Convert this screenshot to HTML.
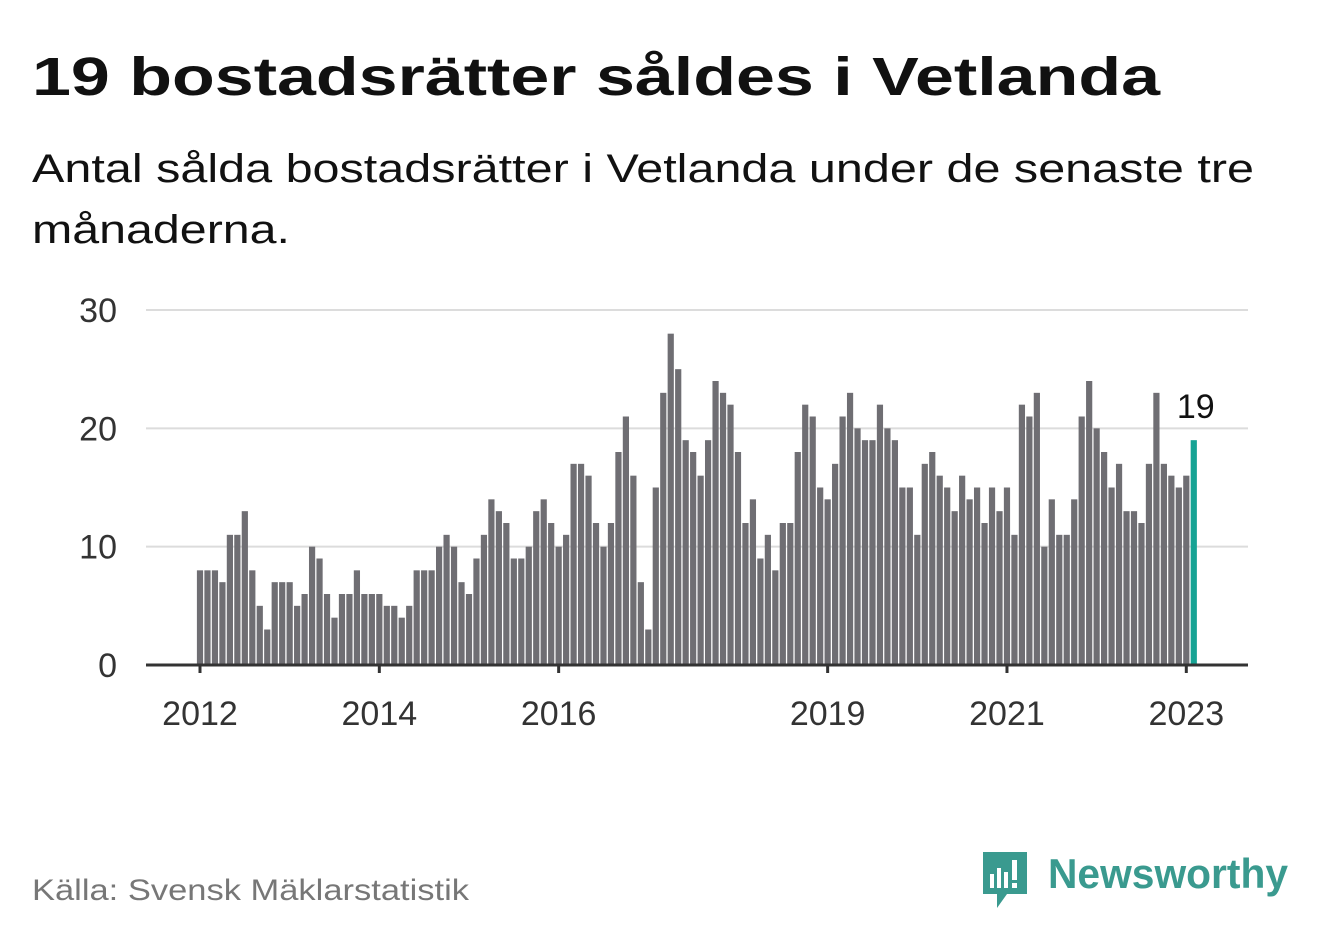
<!DOCTYPE html>
<html><head><meta charset="utf-8"><style>
html,body{margin:0;padding:0;background:#fff;}
svg{display:block;font-family:"Liberation Sans",sans-serif;}
</style></head><body>
<svg id="chart" width="1322" height="939" viewBox="0 0 1322 939">
<text x="32" y="95" font-size="54" font-weight="bold" fill="#111" textLength="1128" lengthAdjust="spacingAndGlyphs">19 bostadsrätter såldes i Vetlanda</text>
<text x="32" y="182" font-size="40" fill="#111" textLength="1222" lengthAdjust="spacingAndGlyphs">Antal sålda bostadsrätter i Vetlanda under de senaste tre</text>
<text x="32" y="243" font-size="40" fill="#111" textLength="258" lengthAdjust="spacingAndGlyphs">månaderna.</text>
<g id="grid"></g>
<g id="bars"></g>
<g id="xaxis"></g>
<text x="32" y="900" font-size="30" fill="#777" textLength="437" lengthAdjust="spacingAndGlyphs">Källa: Svensk Mäklarstatistik</text>
<g>
<path d="M983 852 h44 v42 h-20 l-10 14 v-14 h-14 z" fill="#3a9a8f"/>
<rect x="990" y="874" width="4" height="14" fill="#fff"/><rect x="997" y="868" width="4" height="20" fill="#fff"/><rect x="1004" y="872" width="4" height="16" fill="#fff"/><rect x="1012" y="860" width="5" height="20" fill="#fff"/><rect x="1012" y="883" width="5" height="5" fill="#fff"/>
<text x="1048" y="888" font-size="42" font-weight="bold" fill="#3a9a8f" textLength="240" lengthAdjust="spacingAndGlyphs">Newsworthy</text>
</g>
</svg>
<script>
const startYear = 2012;
const values = [
8,8,8,7,11,11,13,8,5,3,7,7,
7,5,6,10,9,6,4,6,6,8,6,6,
6,5,5,4,5,8,8,8,10,11,10,7,
6,9,11,14,13,12,9,9,10,13,14,12,
10,11,17,17,16,12,10,12,18,21,16,7,
3,15,23,28,25,19,18,16,19,24,23,22,
18,12,14,9,11,8,12,12,18,22,21,15,
14,17,21,23,20,19,19,22,20,19,15,15,
11,17,18,16,15,13,16,14,15,12,15,13,
15,11,22,21,23,10,14,11,11,14,21,24,
20,18,15,17,13,13,12,17,23,17,16,15,
16,19];
const yTicks = [0,10,20,30];
const xTickLabels = ["2012","2014","2016","2019","2021","2023"];
const xTickYears = [2012,2014,2016,2019,2021,2023];

const NS="http://www.w3.org/2000/svg";
const y0=665, yPer=(665-310)/30;
const x0=200, xPer=(1186.3-200)/132;
const ys=v=>y0-v*yPer;
const xs=i=>x0+i*xPer;
function mk(tag,attrs,parent){const e=document.createElementNS(NS,tag);for(const k in attrs)e.setAttribute(k,attrs[k]);parent.appendChild(e);return e;}
const grid=document.getElementById('grid');
yTicks.forEach(t=>{
  if(t>0){const l=mk('line',{x1:146,x2:1248,y1:ys(t),y2:ys(t),stroke:'#dcdcdc','stroke-width':2},grid);
  
  }
  const tx=mk('text',{x:117,y:ys(t)+12,'font-size':34,fill:'#333','text-anchor':'end'},grid);
  tx.textContent=t;
  
  
});
const bars=document.getElementById('bars');
values.forEach((v,i)=>{
  const last=i===values.length-1;
  const r=mk('rect',{x:xs(i)-3.1,y:ys(v),width:6.2,height:v*yPer,fill:last?'#16a394':'#6f6e73'},bars);
  
  
  if(last){const t=mk('text',{x:xs(i)+2,y:ys(v)-22,'font-size':34,fill:'#111','text-anchor':'middle'},bars);
    t.textContent=v;
    
    }
});
const xa=document.getElementById('xaxis');
const ax=mk('line',{x1:146,x2:1248,y1:665,y2:665,stroke:'#333','stroke-width':3},xa);


xTickYears.forEach((yr,k)=>{
  const x=xs((yr-startYear)*12);
  const tk=mk('line',{x1:x,x2:x,y1:665,y2:673,stroke:'#333','stroke-width':3},xa);
  
  
  const t=mk('text',{x:x,y:725,'font-size':34,fill:'#333','text-anchor':'middle'},xa);
  t.textContent=xTickLabels[k];
  
  
});
</script>
</body></html>
